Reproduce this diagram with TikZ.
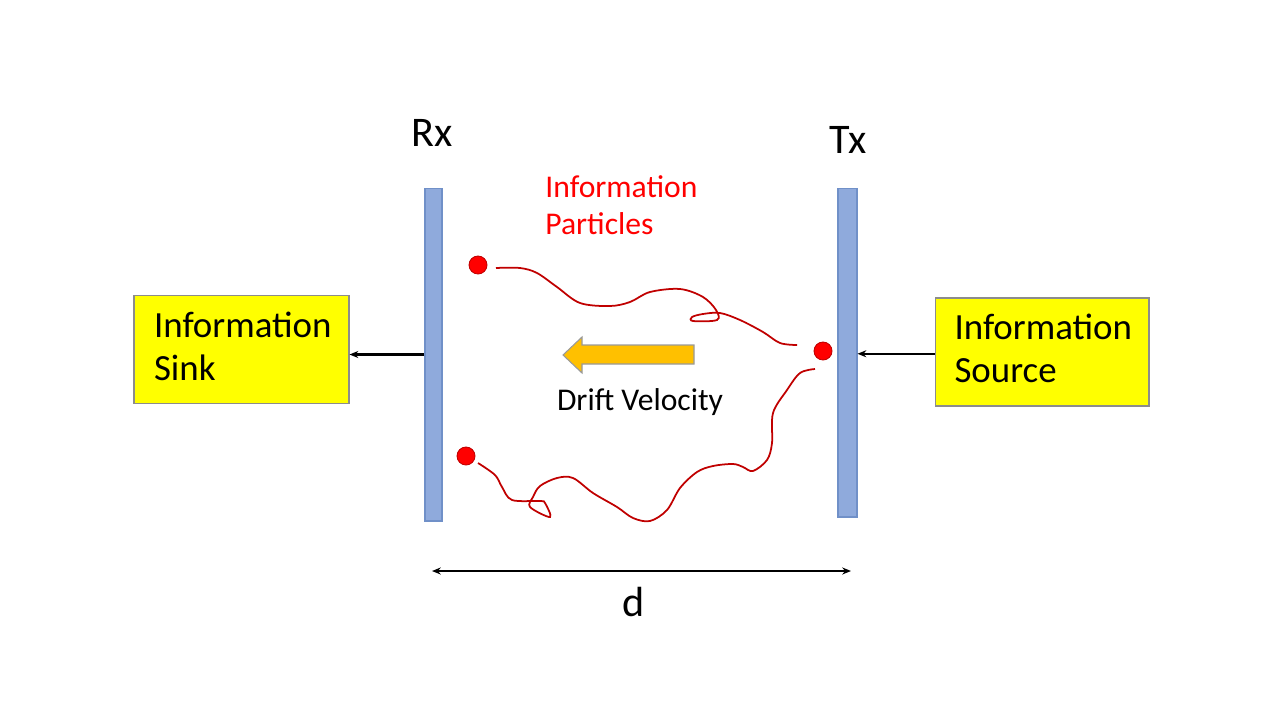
\documentclass[tikz,border=0pt]{standalone}
\usepackage{fontspec}
\setmainfont{Carlito}
\usetikzlibrary{arrows.meta}
\definecolor{barfill}{HTML}{8FAADC}
\definecolor{barline}{HTML}{7090C8}
\definecolor{boxfill}{HTML}{FFFF00}
\definecolor{boxline}{HTML}{8C8C8C}
\definecolor{walk}{HTML}{C00000}
\definecolor{dotred}{HTML}{FF0000}
\definecolor{gold}{HTML}{FFC000}
\newcommand{\boxtext}[1]{\parbox{3.5cm}{\raggedright\fontsize{21}{24.5}\selectfont #1\par\vspace*{4pt}}}
\begin{document}
\begin{tikzpicture}[x=0.02cm,y=-0.02cm,
  barbox/.style={draw=barline,fill=barfill,line width=0.6pt,inner sep=0pt},
  infobox/.style={draw=boxline,fill=boxfill,line width=0.6pt,inner sep=0pt,
    minimum width=4.3cm,minimum height=2.15cm},
  particle/.style={circle,draw=walk,fill=dotred,line width=0.5pt,inner sep=0pt,minimum size=0.36cm},
  walkline/.style={draw=walk,line width=1pt},
  conn/.style={-{Stealth[length=5pt,width=4pt]},line width=1.2pt,black},
  biglabel/.style={font=\fontsize{24}{28}\selectfont}
]
\useasboundingbox (0,0) rectangle (1280,720);

% bars
\node[barbox,minimum width=0.34cm,minimum height=6.66cm] (rx) at (433.5,354.5) {};
\node[barbox,minimum width=0.38cm,minimum height=6.58cm] (tx) at (847.5,352.5) {};

% boxes
\node[infobox] (sink) at (241.5,349.5) {\boxtext{Information\\Sink}};
\node[infobox,minimum width=4.28cm,minimum height=2.16cm] (src) at (1042,352) {\boxtext{Information\\Source}};

% connectors
\draw[conn] (rx.west) -- (rx.west -| sink.east);
\draw[conn] ([yshift=-1pt]src.west) -- ([yshift=-1pt]src.west -| tx.east);

% labels
\node[biglabel] (rxl) at (432,133) {Rx};
\node[biglabel] (txl) at (848,140) {Tx};

% distance
\coordinate (dL) at (432,571);
\coordinate (dR) at (851,571);
\draw[{Stealth[length=5pt,width=4pt]}-{Stealth[length=5pt,width=4pt]},line width=1pt] (dL) -- (dR);
\node[biglabel] (dl) at (634,602) {d};

% information particles text
\node[anchor=west,inner sep=0pt,align=left,text=dotred,font=\fontsize{18}{21}\selectfont] (ip) at (545,205) {Information\\Particles};

% drift arrow
\draw[draw=gray!80,fill=gold,line width=0.6pt] (563,355) -- (582,337) -- (582,345) -- (694,345) -- (694,364) -- (582,364) -- (582,373) -- cycle;
\node[font=\fontsize{18}{21}\selectfont] (dv) at (640,402) {Drift Velocity};

% random walks
\draw[walkline] plot[smooth,tension=0.55] coordinates {
 (496,268) (520,268) (537,273) (557,287) (580,303) (610,306) (630,302) (650,292)
 (680,289) (703,297) (716,310) (717,320) (693,321) (692,317) (703,314) (720,313)
 (740,320) (763,332) (780,343) (797,345)};
\draw[walkline] plot[smooth,tension=0.55] coordinates {
 (815,369) (800,373) (787,390) (773,413) (772,443) (767,460) (753,471) (743,467)
 (733,464) (713,466) (697,472) (680,488) (667,510) (650,521) (633,518) (617,507)
 (593,493) (573,478) (557,478) (540,486) (533,497) (530,507) (550,517) (545,503)
 (540,501) (512,500) (502,487) (495,475) (478,463)};

% particles
\node[particle] (p1) at (478,265) {};
\node[particle] (p2) at (823,351) {};
\node[particle] (p3) at (466,456) {};
\end{tikzpicture}
\end{document}
